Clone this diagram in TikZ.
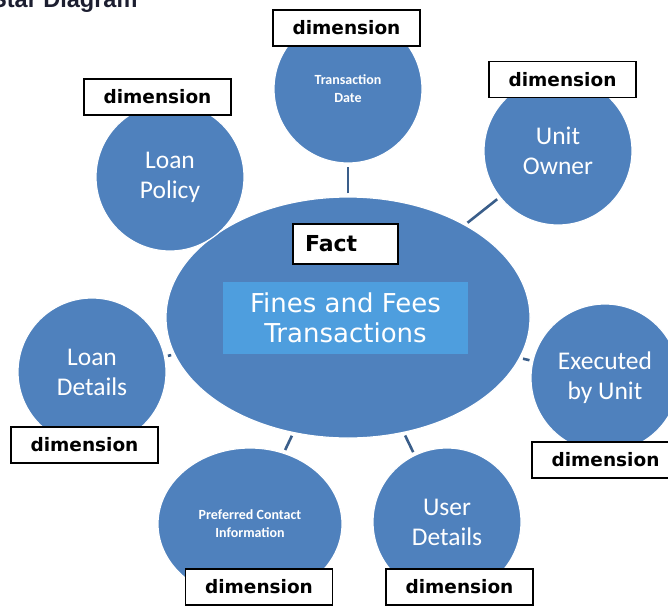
\documentclass[tikz,border=0pt]{standalone}
\usepackage{fontspec}
\usepackage{tikz}
\usetikzlibrary{shapes.geometric}
\newfontfamily\dimfont{DejaVu Sans}
\newfontfamily\calfont{Carlito}
\newfontfamily\headfont{Liberation Sans}
\definecolor{starblue}{RGB}{79,129,189}
\definecolor{factblue}{RGB}{78,158,222}
\definecolor{linkblue}{RGB}{58,94,138}
\definecolor{headdark}{RGB}{28,30,48}

\begin{document}
\begin{tikzpicture}[x=1pt,y=-1pt,
	dimcircle/.style={circle,fill=starblue,draw=white,line width=1.2pt,minimum size=148pt,text=white,align=center,font=\calfont\fontsize{25.5}{30}\selectfont},
	smalltext/.style={font=\calfont\bfseries\fontsize{14}{18}\selectfont},
	factshape/.style={ellipse,fill=starblue,draw=white,line width=1.2pt,minimum width=364pt,minimum height=241pt},
	dimlabel/.style={draw=black,fill=white,line width=1.2pt,minimum width=147pt,minimum height=36pt,inner sep=0pt,font=\dimfont\bfseries\fontsize{18.5}{20}\selectfont},
	link/.style={draw=linkblue,line width=2.6pt,shorten <=3pt,shorten >=3pt}]
					% Define the frame
					\useasboundingbox (0,0) rectangle (668,605);
					\node[anchor=base west,inner sep=0pt,text=headdark,font=\headfont\bfseries\fontsize{23.5}{26}\selectfont] (head) at (-9,8) {Star Diagram};
					% Fact in the middle
					\node[factshape] (fact) at (348,317.5) {};
					% Dimensions round it
					\node[dimcircle] (lp) at (170,177) {Loan\\Policy};
					\node[dimcircle,smalltext] (td) at (348,89) {Transaction\\Date};
					\node[dimcircle] (uo) at (558,151) {Unit\\Owner};
					\node[dimcircle] (ex) at (605,378) {Executed\\by Unit};
					\node[dimcircle] (ld) at (92,372) {Loan\\Details};
					\node[dimcircle,smalltext,ellipse,minimum width=184pt,minimum height=152pt] (pc) at (250,524) {Preferred Contact\\Information};
					\node[dimcircle] (ud) at (447,522) {User\\Details};
					% Links
					\foreach \d in {td,uo,ex,ud,pc,ld} \draw[link] (fact) -- (\d);
					% Fact texts
					\node[fill=factblue,minimum width=245pt,minimum height=72pt,text=white,align=center,font=\dimfont\fontsize{26}{30}\selectfont] (facttext) at (345.5,318) {Fines and Fees\\Transactions};
					\node[draw=black,fill=white,line width=1.2pt,minimum height=40pt,text width=81pt,inner xsep=12pt,align=left,font=\dimfont\bfseries\fontsize{22}{24}\selectfont] (factlabel) at (345.5,244) {Fact};
					% Labels
					\node[dimlabel] (tdlabel) at (346.5,28) {dimension};
					\node[dimlabel] (lplabel) at (157.5,97) {dimension};
					\node[dimlabel] (uolabel) at (562.5,79.5) {dimension};
					\node[dimlabel] (exlabel) at (605.5,460) {dimension};
					\node[dimlabel] (ldlabel) at (84.5,445) {dimension};
					\node[dimlabel] (pclabel) at (259,587) {dimension};
					\node[dimlabel] (udlabel) at (459.5,587) {dimension};
\end{tikzpicture}
\end{document}
